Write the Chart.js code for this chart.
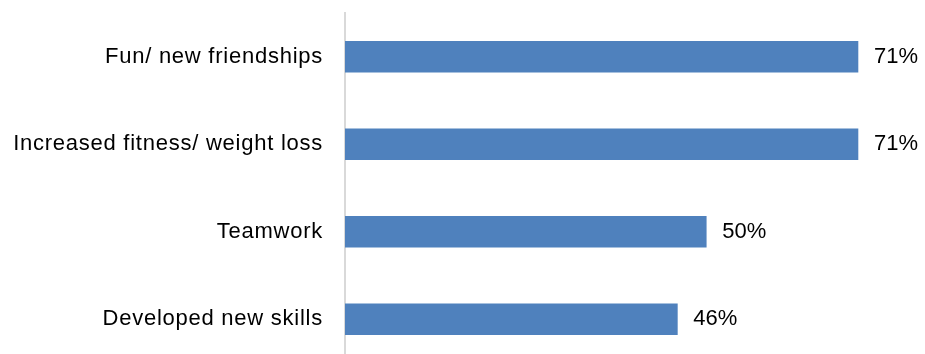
<!DOCTYPE html>
<html>
<head>
<meta charset="utf-8">
<script src="https://cdn.jsdelivr.net/npm/chart.js@4"></script>
<style>
  html, body { margin: 0; padding: 0; background: #fff; overflow: hidden; }
  #wrap { width: 925px; height: 364px; }
</style>
</head>
<body>
<div id="wrap"><canvas id="myChart"></canvas></div>
<script>
let categories = ['Fun/ new friendships', 'Increased fitness/ weight loss', 'Teamwork', 'Developed new skills']
let percents = [71, 71, 50, 46]

// category labels are set a little wider than the default spacing
const wideText = {
    id: 'wideText',
    beforeDraw(chart) {
        chart.ctx.letterSpacing = '0.75px'
    }
}

// writes "71%" etc just past the end of each bar
const valueLabels = {
    id: 'valueLabels',
    afterDatasetsDraw(chart) {
        const ctx = chart.ctx
        const meta = chart.getDatasetMeta(0)
        ctx.save()
        ctx.letterSpacing = '0px'
        ctx.font = '22px "Liberation Sans", Arial, sans-serif'
        ctx.fillStyle = '#000'
        ctx.textAlign = 'left'
        ctx.textBaseline = 'middle'
        meta.data.forEach((bar, i) => {
            ctx.fillText(percents[i] + '%', bar.x + 16, bar.y)
        })
        ctx.restore()
    }
}

var ctx = document.getElementById('myChart').getContext('2d');
var chart = new Chart(ctx, {
    type: 'bar',
    data: {
        labels: categories,
        datasets: [{
            data: percents,
            backgroundColor: '#4f81bd',
            borderWidth: 0,
            barThickness: 31
        }]
    },
    options: {
        indexAxis: 'y',
        responsive: true,
        maintainAspectRatio: false,
        animation: false,
        layout: { padding: { top: 13, bottom: 1, left: 0, right: 2 } },
        plugins: {
            legend: { display: false },
            tooltip: { enabled: false }
        },
        scales: {
            x: {
                display: false,
                min: 0,
                max: 80
            },
            y: {
                z: 1,
                grid: { display: false },
                border: { display: true, color: '#d9d9d9', width: 2 },
                ticks: {
                    color: '#000',
                    padding: 14,
                    font: { family: '"Liberation Sans", Arial, sans-serif', size: 22 }
                },
                afterFit: s => {
                    s.width = 345
                    s.paddingTop = 0
                    s.paddingBottom = 0
                }
            }
        }
    },
    plugins: [wideText, valueLabels]
});
</script>
</body>
</html>
